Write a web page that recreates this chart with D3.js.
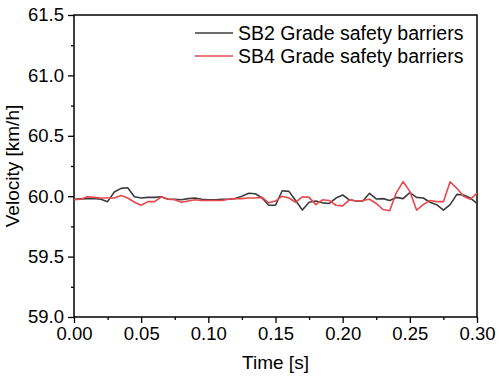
<!DOCTYPE html>
<html>
<head>
<meta charset="utf-8">
<script src="https://cdn.jsdelivr.net/npm/d3@7"></script>
<style>
  body { margin: 0; background: #fff; }
  svg { display: block; font-family: "Liberation Sans", Arial, sans-serif; }
  .tick text { font-size: 18.5px; fill: #000; }
</style>
</head>
<body>
<svg width="499" height="378"></svg>
<script>
// time samples, every 0.005 s
const time = d3.range(61).map(i => +(i * 0.005).toFixed(3));

const sb2 = [
  59.975, 59.978, 59.98, 59.982, 59.975, 59.955, 60.035, 60.065, 60.07, 59.995,
  59.985, 59.99, 59.99, 59.995, 59.975, 59.975, 59.97, 59.98, 59.985, 59.975,
  59.97, 59.97, 59.974, 59.975, 59.98, 60.0, 60.024, 60.02, 59.985, 59.925,
  59.925, 60.045, 60.04, 59.965, 59.885, 59.95, 59.96, 59.945, 59.94, 59.985,
  60.01, 59.97, 59.96, 59.96, 60.024, 59.977, 59.98, 59.965, 59.99, 59.98,
  60.03, 59.99, 59.985, 59.95, 59.93, 59.885, 59.93, 60.015, 60.01, 59.985,
  59.94
];

const sb4 = [
  59.97, 59.975, 59.995, 59.99, 59.985, 59.985, 59.985, 60.005, 59.985, 59.95,
  59.925, 59.955, 59.955, 59.995, 59.975, 59.97, 59.95, 59.96, 59.97, 59.965,
  59.965, 59.965, 59.965, 59.975, 59.98, 59.98, 59.985, 59.985, 59.99, 59.945,
  59.96, 60.0, 59.985, 59.95, 59.995, 59.99, 59.93, 59.97, 59.965, 59.925,
  59.92, 59.97, 59.96, 59.965, 59.975, 59.94, 59.89, 59.88, 60.03, 60.12,
  60.04, 59.885, 59.93, 59.965, 59.955, 59.955, 60.12, 60.065, 60.0, 59.975,
  60.025
];

const xTicks = [0, 0.05, 0.10, 0.15, 0.20, 0.25, 0.30];
const yTicks = [59.0, 59.5, 60.0, 60.5, 61.0, 61.5];

const series = [
  { name: 'SB2 Grade safety barriers', values: sb2, color: '#3d3d3d' },
  { name: 'SB4 Grade safety barriers', values: sb4, color: '#e8474c' }
];

const svg = d3.select('svg');
const margin = { top: 15, right: 22, bottom: 61, left: 74 };
const width = 499 - margin.left - margin.right;
const height = 378 - margin.top - margin.bottom;

const x = d3.scaleLinear().domain([0, 0.30]).range([0, width]);
const y = d3.scaleLinear().domain([59.0, 61.5]).range([height, 0]);

const g = svg.append('g').attr('transform', `translate(${margin.left},${margin.top})`);

// minor ticks
g.append('g')
    .attr('transform', `translate(0,${height})`)
    .call(d3.axisBottom(x).tickValues(d3.range(0.025, 0.3, 0.05)).tickSize(3).tickFormat(''))
    .call(a => a.select('.domain').remove())
    .selectAll('line').attr('stroke-width', 1.3);
g.append('g')
    .call(d3.axisLeft(y).tickValues(d3.range(59.25, 61.5, 0.5)).tickSize(3).tickFormat(''))
    .call(a => a.select('.domain').remove())
    .selectAll('line').attr('stroke-width', 1.3);

// major axes
const xAxis = g.append('g')
    .attr('transform', `translate(0,${height})`)
    .call(d3.axisBottom(x).tickValues(xTicks).tickSize(6).tickPadding(4).tickFormat(d3.format('.2f')));
const yAxis = g.append('g')
    .call(d3.axisLeft(y).tickValues(yTicks).tickSize(6).tickPadding(4).tickFormat(d3.format('.1f')));
[xAxis, yAxis].forEach(a => {
    a.select('.domain').remove();
    a.selectAll('line').attr('stroke-width', 1.3);
});

// frame
g.append('rect')
    .attr('width', width)
    .attr('height', height)
    .attr('fill', 'none')
    .attr('stroke', '#000')
    .attr('stroke-width', 1.5);

// lines
const line = d3.line()
    .x((d, i) => x(time[i]))
    .y(d => y(d));

series.forEach(s => {
    g.append('path')
        .datum(s.values)
        .attr('fill', 'none')
        .attr('stroke', s.color)
        .attr('stroke-width', 1.6)
        .attr('stroke-linejoin', 'round')
        .attr('d', line);
});

// legend
const legend = g.append('g').attr('transform', 'translate(121,18)');
series.forEach((s, i) => {
    const row = legend.append('g').attr('transform', `translate(0,${i * 23})`);
    row.append('line')
        .attr('x1', 0).attr('x2', 38)
        .attr('stroke', s.color)
        .attr('stroke-width', 1.6);
    row.append('text')
        .attr('x', 43)
        .attr('dy', '0.35em')
        .attr('font-size', 19.5)
        .text(s.name);
});

// axis titles
svg.append('text')
    .attr('x', margin.left + width / 2)
    .attr('y', 369)
    .attr('text-anchor', 'middle')
    .attr('font-size', 19)
    .text('Time [s]');

svg.append('text')
    .attr('transform', `translate(19,${margin.top + height / 2}) rotate(-90)`)
    .attr('text-anchor', 'middle')
    .attr('font-size', 19)
    .text('Velocity [km/h]');
</script>
</body>
</html>
